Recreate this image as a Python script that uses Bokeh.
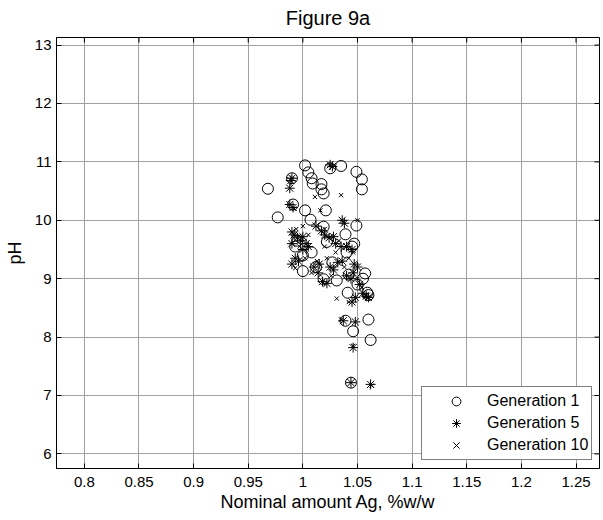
import math
from bokeh.plotting import figure
from bokeh.models import (ColumnDataSource, FixedTicker, Range1d,
                          Legend, LegendItem)
from bokeh.embed import file_html
from bokeh.resources import INLINE

# ---- data ----
gen1_x = [0.968, 0.977, 1.002, 1.005, 1.008, 1.009, 1.017, 1.017, 1.019, 1.025,
          1.035, 1.049, 1.054, 1.054, 1.002, 1.021, 1.007, 0.991, 1.049, 1.019,
          1.039, 1.022, 1.047, 1.000, 1.027, 1.042, 1.019, 1.031, 1.057, 1.059,
          1.041, 1.039, 1.060, 1.046, 1.062, 1.044, 0.995, 1.000, 0.993, 1.008,
          1.012, 1.040, 1.045, 1.055, 1.060, 1.050, 0.990]
gen1_y = [10.54, 10.05, 10.94, 10.82, 10.72, 10.63, 10.62, 10.53, 10.46, 10.89,
          10.93, 10.83, 10.70, 10.53, 10.17, 10.17, 10.01, 10.27, 9.91, 9.89,
          9.76, 9.63, 9.60, 9.13, 9.28, 9.07, 8.99, 8.97, 9.09, 8.76,
          8.76, 8.28, 8.30, 8.10, 7.95, 7.22, 9.65, 9.40, 9.55, 9.45,
          9.20, 9.45, 9.55, 9.00, 8.72, 8.90, 10.72]

gen5_x = [0.990, 0.989, 0.988, 1.025, 1.027, 0.988, 0.991, 0.990, 0.992, 0.995,
          0.998, 0.990, 1.000, 1.003, 0.993, 0.996, 0.990, 1.000, 1.005, 1.012,
          1.017, 1.020, 1.024, 1.028, 1.030, 1.035, 1.036, 1.038, 1.010, 1.014,
          1.018, 1.022, 1.028, 1.032, 1.036, 1.040, 1.044, 1.046, 1.050, 1.047,
          1.052, 1.055, 1.058, 1.060, 1.045, 1.048, 1.037, 1.048, 1.046, 1.044,
          1.062, 1.040, 1.045, 1.015, 1.025]
gen5_y = [10.72, 10.68, 10.55, 10.95, 10.92, 10.27, 10.22, 9.80, 9.75, 9.70,
          9.65, 9.60, 9.72, 9.60, 9.35, 9.30, 9.25, 9.50, 9.55, 9.90,
          9.82, 9.75, 9.70, 9.72, 9.60, 9.55, 10.00, 9.95, 9.20, 9.10,
          8.95, 8.92, 9.15, 9.28, 9.30, 9.05, 9.00, 9.10, 9.20, 9.25,
          8.90, 8.75, 8.70, 8.68, 8.60, 8.68, 8.28, 8.26, 7.82, 7.22,
          7.19, 9.55, 9.50, 9.25, 9.20]

gen10_x = [1.035, 1.016, 1.031, 1.011, 0.992, 0.994, 0.997, 1.000, 1.005, 0.993,
           1.002, 1.008, 1.013, 1.020, 1.022, 1.026, 1.030, 1.033, 1.038, 1.042,
           1.046, 1.050, 1.054, 1.058, 1.042, 1.035, 1.063, 1.046, 1.050, 1.020]
gen10_y = [10.43, 10.17, 8.66, 10.40, 10.20, 9.85, 9.55, 9.90, 9.75, 9.18,
           9.35, 9.10, 9.30, 9.55, 9.35, 9.05, 9.45, 9.65, 9.20, 9.35,
           9.45, 9.00, 8.85, 8.72, 8.60, 8.30, 7.17, 7.85, 10.00, 9.85]

series_names = ["Generation 1", "Generation 5", "Generation 10"]
x_ticks = [0.8, 0.85, 0.9, 0.95, 1.0, 1.05, 1.1, 1.15, 1.2, 1.25]
x_tick_labels = ["0.8", "0.85", "0.9", "0.95", "1", "1.05", "1.1", "1.15", "1.2", "1.25"]
y_ticks = [6, 7, 8, 9, 10, 11, 12, 13]
x_lim = (0.7745, 1.2715)
y_lim = (5.75, 13.13)

FONT = "Liberation Sans"

p = figure(width=602, height=518, output_backend="svg", toolbar_location=None,
           x_range=Range1d(*x_lim), y_range=Range1d(*y_lim),
           title="Figure 9a", min_border_left=56, min_border_right=3,
           min_border_top=37, min_border_bottom=50)

p.title.align = "center"
p.title.text_font = FONT
p.title.text_font_size = "20px"
p.title.text_font_style = "normal"
p.title.text_color = "black"
p.title.standoff = 13
p.title.vertical_align = "top"

p.outline_line_color = "black"
p.outline_line_width = 1
p.background_fill_color = "white"
p.border_fill_color = "white"

p.xaxis.ticker = FixedTicker(ticks=x_ticks)
p.yaxis.ticker = FixedTicker(ticks=y_ticks)
p.xaxis.major_label_overrides = {t: l for t, l in zip(x_ticks, x_tick_labels)}
p.xaxis.axis_label = "Nominal amount Ag, %w/w"
p.yaxis.axis_label = "pH"

for ax in [p.xaxis[0], p.yaxis[0]]:
    ax.axis_line_color = "black"
    ax.major_tick_line_color = "black"
    ax.major_tick_in = 5
    ax.major_tick_out = 0
    ax.minor_tick_line_color = None
    ax.major_label_text_font = FONT
    ax.major_label_text_font_size = "15px"
    ax.major_label_text_color = "black"
    ax.axis_label_text_font = FONT
    ax.axis_label_text_font_size = "18px"
    ax.axis_label_text_font_style = "normal"
    ax.axis_label_text_color = "black"
p.xaxis.major_label_standoff = 8
p.yaxis.major_label_standoff = 5
p.xaxis.axis_label_standoff = 2
p.yaxis.axis_label_standoff = 7

# inward tick marks on the top and right edges of the box (screen-length rays)
p.ray(x=x_ticks, y=[y_lim[1]] * len(x_ticks), length=5, length_units="screen",
      angle=-math.pi / 2, line_color="black", line_width=1)
p.ray(x=[x_lim[1]] * len(y_ticks), y=y_ticks, length=5, length_units="screen",
      angle=math.pi, line_color="black", line_width=1)

p.xgrid.grid_line_color = "#a0a0a0"
p.ygrid.grid_line_color = "#a0a0a0"
p.xgrid.grid_line_width = 1
p.ygrid.grid_line_width = 1

s1 = ColumnDataSource(dict(x=gen1_x, y=gen1_y))
s5 = ColumnDataSource(dict(x=gen5_x, y=gen5_y))
s10 = ColumnDataSource(dict(x=gen10_x, y=gen10_y))

r1 = p.scatter("x", "y", source=s1, marker="circle", size=11,
               fill_color=None, line_color="black", line_width=1)
r5 = p.scatter("x", "y", source=s5, marker="asterisk", size=10,
               line_color="black", line_width=1)
r10 = p.scatter("x", "y", source=s10, marker="x", size=6,
                line_color="black", line_width=1)

legend = Legend(items=[LegendItem(label=series_names[0], renderers=[r1]),
                       LegendItem(label=series_names[1], renderers=[r5]),
                       LegendItem(label=series_names[2], renderers=[r10])],
                location=(365, 8))
legend.border_line_color = "black"
legend.border_line_width = 1
legend.background_fill_color = "white"
legend.background_fill_alpha = 1
legend.label_text_font = FONT
legend.label_text_font_size = "16px"
legend.label_text_color = "black"
legend.padding = 3
legend.spacing = 0
legend.glyph_width = 62
legend.glyph_height = 22
legend.label_height = 22
legend.label_standoff = 0
legend.margin = 0
p.add_layout(legend, "center")

open("out.html", "w").write(file_html(p, INLINE))
